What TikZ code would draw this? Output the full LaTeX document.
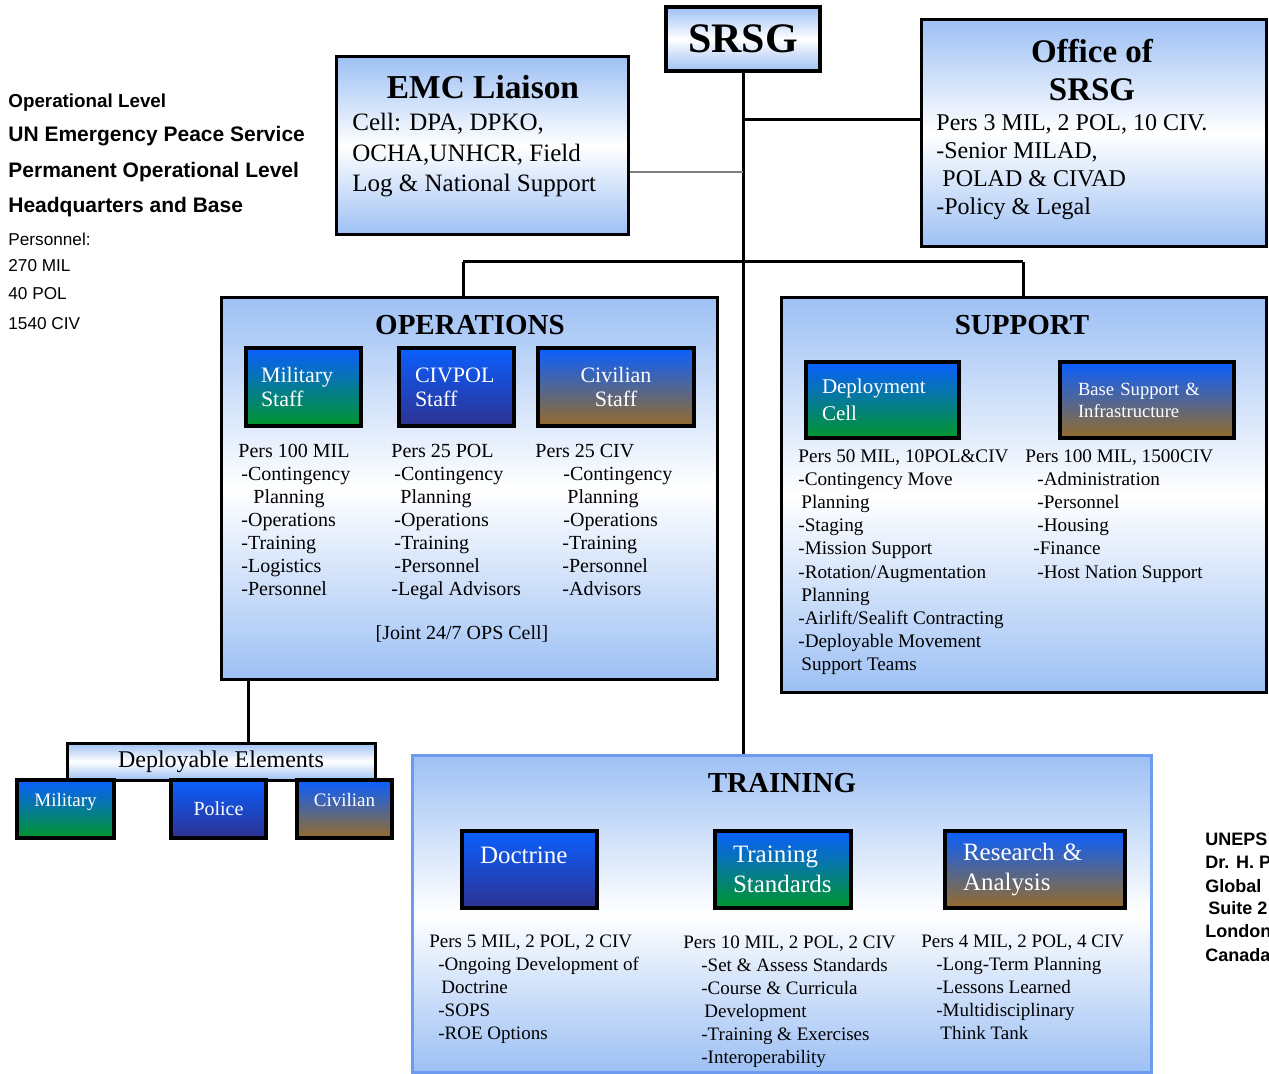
\documentclass[tikz,border=0pt]{standalone}
\usepackage{fontspec}
\setmainfont{Liberation Serif}
\setsansfont{Liberation Sans}
\definecolor{paleblue}{RGB}{157,192,244}
\definecolor{topblue}{RGB}{10,95,255}
\definecolor{darkgreen}{RGB}{0,150,45}
\definecolor{navy}{RGB}{45,50,145}
\definecolor{brownish}{RGB}{150,108,42}
\definecolor{trainedge}{RGB}{110,155,240}
\newcommand{\fs}[2]{\fontsize{#1}{#2}\selectfont}
\begin{document}
\begin{tikzpicture}[x=0.5pt,y=-0.5pt,
  wh/.style 2 args={minimum width=#1*0.5pt,minimum height=#2*0.5pt,inner sep=0pt},
  pad/.style 2 args={text width=#1pt,inner xsep=#2pt},
  bigbox/.style={draw=black,line width=1.5pt,top color=paleblue,bottom color=paleblue,middle color=white},
  unitbox/.style={draw=black,line width=2pt,top color=topblue,text=white,align=left},
  greenunit/.style={unitbox,bottom color=darkgreen},
  navyunit/.style={unitbox,bottom color=navy},
  brownunit/.style={unitbox,bottom color=brownish},
  boxtitle/.style={font=\bfseries\fs{14.5}{16}},
  body/.style={anchor=north west,inner sep=0pt,align=left,font=\fs{10}{11.5}},
  lefttext/.style={anchor=west,inner sep=0pt,font=\sffamily\fs{8.6}{10}},
  link/.style={line width=1.5pt}]
\useasboundingbox (0,0) rectangle (1269,1074);

% junction points
\coordinate (hq1) at (743,120);
\coordinate (hq2) at (743,172);
\coordinate (bar1) at (463,262);
\coordinate (bar2) at (1023,262);
\coordinate (drop) at (248,700);

% headquarters
\node[bigbox,line width=2pt,wh={154}{64}] (srsg) at (743,39) {\bfseries\fs{21}{24}SRSG};
\node[bigbox,wh={292}{178}] (emc) at (482,146) {};
\node[boxtitle,font=\bfseries\fs{16.7}{18}] (emct) at (483,87) {EMC Liaison};
\node[body,font=\fs{12.5}{15.25}] (emcb) at (352,113) {Cell: DPA, DPKO,\\OCHA,UNHCR, Field\\Log \& National Support};
\node[bigbox,wh={345}{227}] (office) at (1093.5,133.5) {};
\node[boxtitle,align=center,font=\bfseries\fs{16.5}{19}] (officet) at (1092,70) {Office of\\SRSG};
\node[body,font=\fs{12}{14}] (officeb) at (936,114) {Pers 3 MIL, 2 POL, 10 CIV.\\-Senior MILAD,\\\hspace*{3pt}POLAD \& CIVAD\\-Policy \& Legal};

% operations
\node[bigbox,wh={496}{381}] (ops) at (469,488.5) {};
\node[boxtitle] (opst) at (470,325) {OPERATIONS};
\node[greenunit,wh={115}{78},pad={42.5}{7.5},font=\fs{11}{12}] (milstaff) at (303.5,387) {Military\\Staff};
\node[navyunit,wh={115}{78},pad={41.5}{8},font=\fs{11}{12}] (polstaff) at (456.5,387) {CIVPOL\\Staff};
\node[brownunit,wh={156}{78},align=center,font=\fs{11}{12}] (civstaff) at (616,387) {Civilian\\Staff};
\node[body] (milb) at (238,444) {Pers 100 MIL\\\hspace*{1.5pt}-Contingency\\\hspace*{7.5pt}Planning\\\hspace*{1.5pt}-Operations\\\hspace*{1.5pt}-Training\\\hspace*{1.5pt}-Logistics\\\hspace*{1.5pt}-Personnel};
\node[body] (polb) at (391,444) {Pers 25 POL\\\hspace*{1.5pt}-Contingency\\\hspace*{4.5pt}Planning\\\hspace*{1.5pt}-Operations\\\hspace*{1.5pt}-Training\\\hspace*{1.5pt}-Personnel\\-Legal Advisors};
\node[body] (civb) at (535,444) {Pers 25 CIV\\\hspace*{14pt}-Contingency\\\hspace*{16pt}Planning\\\hspace*{14pt}-Operations\\\hspace*{13.5pt}-Training\\\hspace*{13.5pt}-Personnel\\\hspace*{13.5pt}-Advisors};
\node[font=\fs{10}{11.5}] (joint) at (462,634) {[Joint 24/7 OPS Cell]};

% support
\node[bigbox,wh={485}{394}] (sup) at (1023.5,495) {};
\node[boxtitle] (supt) at (1022,325) {SUPPORT};
\node[greenunit,wh={153}{76},pad={60.5}{8},font=\fs{10.5}{13.5}] (deploy) at (882.5,400) {Deployment\\Cell};
\node[brownunit,wh={174}{76},pad={69}{9},font=\fs{9.3}{11}] (base) at (1147,400) {Base Support \&\\Infrastructure};
\node[body,font=\fs{9.6}{11.6}] (deployb) at (798,449) {Pers 50 MIL, 10POL\&CIV\\-Contingency Move\\\hspace*{1.5pt}Planning\\-Staging\\-Mission Support\\-Rotation/Augmentation\\\hspace*{1.5pt}Planning\\-Airlift/Sealift Contracting\\-Deployable Movement\\\hspace*{1.5pt}Support Teams};
\node[body,font=\fs{9.6}{11.6}] (baseb) at (1025,449) {Pers 100 MIL, 1500CIV\\\hspace*{6pt}-Administration\\\hspace*{6pt}-Personnel\\\hspace*{6pt}-Housing\\\hspace*{4pt}-Finance\\\hspace*{6pt}-Host Nation Support};

% training
\node[bigbox,draw=trainedge,wh={739}{317}] (training) at (781.5,913.5) {};
\node[boxtitle] (trainingt) at (782,783) {TRAINING};
\node[navyunit,wh={135}{77},pad={49.5}{9},text depth=14pt,font=\fs{12.5}{15}] (doctrine) at (529.5,869.5) {Doctrine};
\node[greenunit,wh={136}{77},pad={50}{9},font=\fs{12.5}{15}] (standards) at (783,869.5) {Training\\Standards};
\node[brownunit,wh={180}{77},pad={72}{9},font=\fs{12.5}{15}] (research) at (1035,869.5) {Research \&\\Analysis};
\node[body,font=\fs{9.5}{11.5}] (doctrineb) at (429,935) {Pers 5 MIL, 2 POL, 2 CIV\\\hspace*{4.5pt}-Ongoing Development of\\\hspace*{6pt}Doctrine\\\hspace*{4.5pt}-SOPS\\\hspace*{4.5pt}-ROE Options};
\node[body,font=\fs{9.5}{11.5}] (standardsb) at (683,935) {Pers 10 MIL, 2 POL, 2 CIV\\\hspace*{9pt}-Set \& Assess Standards\\\hspace*{9pt}-Course \& Curricula\\\hspace*{10.5pt}Development\\\hspace*{9pt}-Training \& Exercises\\\hspace*{9pt}-Interoperability};
\node[body,font=\fs{9.5}{11.5}] (researchb) at (921,935) {Pers 4 MIL, 2 POL, 4 CIV\\\hspace*{7.5pt}-Long-Term Planning\\\hspace*{7.5pt}-Lessons Learned\\\hspace*{7.5pt}-Multidisciplinary\\\hspace*{9.5pt}Think Tank};

% deployable elements
\node[bigbox,wh={308}{37},font=\fs{12}{14}] (depl) at (221,761.5) {Deployable Elements};
\node[greenunit,wh={97}{58},font=\fs{9.5}{11}] (deplmil) at (65.5,809) {Military\\[-2pt]};
\node[navyunit,wh={95}{58},font=\fs{10}{11}] (deplpol) at (218.5,809) {Police};
\node[brownunit,wh={95}{58},font=\fs{9.5}{11}] (deplciv) at (344.5,809) {Civilian\\[-2pt]};

% connectors
\draw[link] (srsg.south) -- (srsg.south |- training.north);
\draw[link] (hq1) -- (hq1 -| office.west);
\draw[gray,line width=0.75pt] (hq2 -| emc.east) -- (hq2);
\draw[link] (bar1) -- (bar2);
\draw[link] (bar1) -- (bar1 |- ops.north);
\draw[link] (bar2) -- (bar2 |- sup.north);
\draw[link] (drop |- ops.south) -- (drop |- depl.north);

% side notes
\node[lefttext,font=\sffamily\bfseries\fs{9.4}{11}] (level) at (8,103) {Operational Level};
\node[lefttext,font=\sffamily\bfseries\fs{10.5}{12}] (service) at (8,136) {UN Emergency Peace Service};
\node[lefttext,font=\sffamily\bfseries\fs{10.5}{12}] (perm) at (8,172) {Permanent Operational Level};
\node[lefttext,font=\sffamily\bfseries\fs{10.5}{12}] (hqbase) at (8,207) {Headquarters and Base};
\foreach \y/\t [count=\i] in {239/Personnel:, 266/270 MIL, 294/40 POL, 324/1540 CIV}
  \node[lefttext] (pers\i) at (8,\y) {\t};
\foreach \y/\t [count=\i] in {839/UNEPS, 862/Dr. H. P, 886/Global, 908/\hspace*{1.5pt}Suite 2, 931/London, 955/Canada}
  \node[lefttext,font=\sffamily\bfseries\fs{9}{10}] (addr\i) at (1205,\y) {\t};
\end{tikzpicture}
\end{document}
